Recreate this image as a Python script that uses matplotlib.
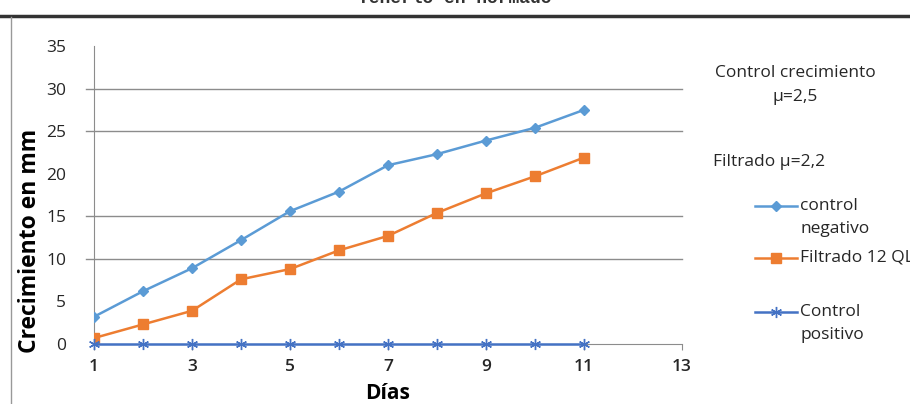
import matplotlib
matplotlib.use("Agg")
from matplotlib import pyplot as plt
from matplotlib.lines import Line2D

plt.rcParams['font.family'] = ['Open Sans', 'DejaVu Sans']

dias = [1, 2, 3, 4, 5, 6, 7, 8, 9, 10, 11]
control_negativo = [3.2, 6.2, 8.9, 12.2, 15.6, 17.9, 21.0, 22.3, 23.9, 25.4, 27.5]
filtrado_12 = [0.7, 2.3, 3.9, 7.6, 8.8, 11.0, 12.7, 15.4, 17.7, 19.7, 21.9]
control_positivo = [0, 0, 0, 0, 0, 0, 0, 0, 0, 0, 0]
grid_levels = [10, 15, 25, 30]
x_ticks = [1, 3, 5, 7, 9, 11, 13]
y_ticks = [0, 5, 10, 15, 20, 25, 30, 35]

c_neg = '#5b9bd5'
c_fil = '#ed7d31'
c_pos = '#4472c4'
txt = '#262626'
fs = 12.5

fig = plt.figure(figsize=(9.10, 4.04), dpi=100)
ax = fig.add_axes([0.1033, 0.1485, 0.6462, 0.7376])

# gridlines, running a little past the axis as tick marks
for g in grid_levels:
    ax.plot([-0.014, 1], [g, g], transform=ax.get_yaxis_transform(), color='#8c8c8c',
            lw=1.0, zorder=1, clip_on=False)

ax.plot(dias, control_negativo, color=c_neg, lw=1.8, marker='D', ms=5, zorder=3)
ax.plot(dias, filtrado_12, color=c_fil, lw=1.8, marker='s', ms=6.5, zorder=3)
ax.plot(dias, control_positivo, color=c_pos, lw=1.8, marker=(6, 2, 0), ms=8,
        mew=1.0, zorder=4, clip_on=False)

ax.set_xlim(1, 13)
ax.set_ylim(0, 35)
ax.set_xticks(x_ticks)
ax.set_yticks(y_ticks)
ax.tick_params(axis='x', labelsize=fs, length=4, color='#8c8c8c', pad=7, labelcolor=txt)
ax.tick_params(axis='y', labelsize=fs, length=0, pad=20, labelcolor=txt)
for lbl in ax.get_xticklabels():
    lbl.set_fontweight('semibold')
for s in ['top', 'right']:
    ax.spines[s].set_visible(False)
ax.spines['left'].set_color('#8c8c8c')
ax.spines['bottom'].set_color('#8c8c8c')

ax.set_xlabel('Días', fontsize=15, fontweight='bold', color='black')
ax.xaxis.set_label_coords(0.5, -0.13)
ax.set_ylabel('Crecimiento en mm', fontsize=16.5, fontweight='bold', color='black')
ax.yaxis.set_label_coords(-0.088, 0.345)

# header cut off at the top edge and the frame lines
fig.text(0.5, 1 - 3 / 404, 'Tenerlo en normado', family='Liberation Mono',
         fontweight='bold', fontsize=13, ha='center', va='baseline', color='#333333')
fig.add_artist(Line2D([0, 1], [1 - 16 / 404, 1 - 16 / 404], color='#333333', lw=2.5))
fig.add_artist(Line2D([11 / 910, 11 / 910], [0, 1 - 17 / 404], color='#999999', lw=1.0))

# side notes
fig.text(795 / 910, 1 - 73 / 404, 'Control crecimiento', fontsize=fs, ha='center',
         va='center', color=txt)
fig.text(795 / 910, 1 - 97 / 404, 'μ=2,5', fontsize=fs, ha='center', va='center', color=txt)
fig.text(713 / 910, 1 - 162 / 404, 'Filtrado μ=2,2', fontsize=fs, ha='left',
         va='center', color=txt)

# legend
entries = [
    (c_neg, 'D', 5, 206, ['control', 'negativo']),
    (c_fil, 's', 6.5, 258, ['Filtrado 12 QL']),
    (c_pos, (6, 2, 0), 8, 312, ['Control', 'positivo']),
]
for color, mk, ms, ypx, lines in entries:
    yf = 1 - ypx / 404
    fig.add_artist(Line2D([755 / 910, 797 / 910], [yf, yf], color=color, lw=1.8))
    fig.add_artist(Line2D([776 / 910], [yf], color=color, marker=mk, ms=ms, mew=1.0))
    for i, t in enumerate(lines):
        fig.text(800 / 910, yf - i * 23 / 404, t, fontsize=fs, ha='left', va='center',
                 color=txt)

fig.savefig('out.png', dpi=100)
